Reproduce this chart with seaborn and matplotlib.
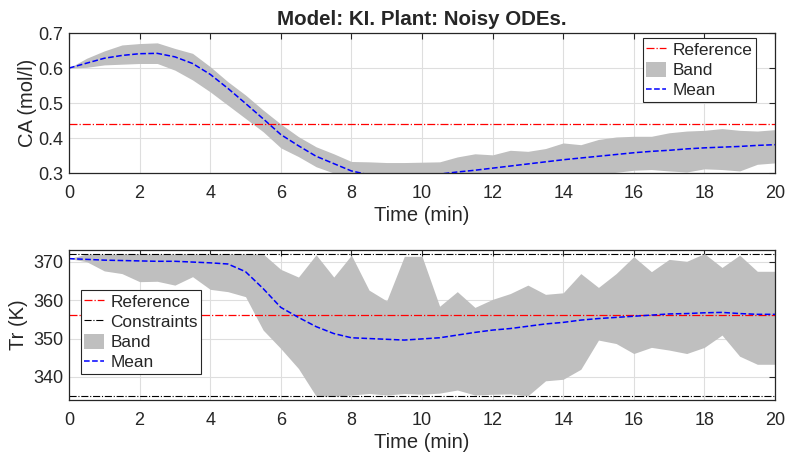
import numpy as np
import pandas as pd
import matplotlib
matplotlib.use("Agg")
import matplotlib.pyplot as plt
from matplotlib.patches import Patch
from matplotlib.lines import Line2D
import seaborn as sns

# time grid of the simulation (min)
time = [0, 0.5, 1, 1.5, 2, 2.5, 3, 3.5, 4, 4.5, 5, 5.5, 6, 6.5, 7, 7.5, 8, 8.5, 9, 9.5,
        10, 10.5, 11, 11.5, 12, 12.5, 13, 13.5, 14, 14.5, 15, 15.5, 16, 16.5, 17, 17.5,
        18, 18.5, 19, 19.5, 20]

# concentration CA (mol/l)
ca_mean = [0.600, 0.614, 0.628, 0.636, 0.641, 0.642, 0.632, 0.613, 0.582, 0.542, 0.499,
           0.455, 0.410, 0.378, 0.348, 0.327, 0.306, 0.295, 0.290, 0.288, 0.290, 0.297,
           0.303, 0.308, 0.314, 0.320, 0.326, 0.332, 0.338, 0.343, 0.348, 0.353, 0.358,
           0.362, 0.365, 0.369, 0.372, 0.374, 0.376, 0.379, 0.381]
ca_upper = [0.600, 0.628, 0.649, 0.666, 0.670, 0.672, 0.656, 0.642, 0.604, 0.561, 0.523,
            0.480, 0.440, 0.404, 0.375, 0.355, 0.333, 0.332, 0.330, 0.330, 0.331, 0.332,
            0.346, 0.355, 0.352, 0.365, 0.362, 0.370, 0.386, 0.381, 0.396, 0.403, 0.405,
            0.405, 0.415, 0.420, 0.422, 0.427, 0.422, 0.420, 0.424]
ca_lower = [0.600, 0.602, 0.609, 0.611, 0.613, 0.613, 0.594, 0.566, 0.532, 0.494, 0.456,
            0.418, 0.372, 0.347, 0.318, 0.300, 0.285, 0.270, 0.262, 0.258, 0.258, 0.262,
            0.266, 0.270, 0.274, 0.278, 0.281, 0.284, 0.287, 0.292, 0.297, 0.302, 0.308,
            0.310, 0.306, 0.303, 0.312, 0.310, 0.306, 0.325, 0.329]
ca_ref = 0.44

# reactor temperature Tr (K)
tr_mean = [370.8, 370.6, 370.4, 370.3, 370.2, 370.1, 370.1, 369.9, 369.7, 369.4, 367.4,
           363.0, 358.1, 355.5, 353.1, 351.3, 350.2, 350.0, 349.8, 349.6, 349.9, 350.2,
           350.9, 351.6, 352.2, 352.6, 353.2, 353.8, 354.2, 354.8, 355.2, 355.5, 355.8,
           356.1, 356.4, 356.5, 356.7, 356.8, 356.5, 356.3, 356.3]
tr_upper = [370.8, 372.0, 372.0, 372.0, 372.0, 372.0, 372.0, 372.0, 372.0, 372.0, 372.0,
            372.0, 368.0, 366.0, 371.8, 366.0, 371.7, 362.6, 359.8, 371.4, 371.4, 358.4,
            362.2, 358.1, 360.2, 361.7, 363.9, 361.5, 361.9, 366.9, 363.3, 366.9, 371.3,
            367.4, 370.6, 370.1, 372.1, 368.5, 371.7, 367.5, 367.5]
tr_lower = [370.8, 370.0, 367.6, 366.9, 364.8, 364.9, 363.9, 366.1, 362.8, 362.2, 360.9,
            352.2, 347.4, 342.2, 335.0, 335.0, 335.3, 335.7, 335.3, 335.7, 335.5, 335.8,
            336.6, 335.3, 335.5, 335.6, 335.1, 339.0, 339.4, 342.0, 349.6, 348.7, 346.1,
            347.7, 347.0, 346.1, 347.7, 350.9, 345.4, 343.3, 343.3]
tr_ref = 356.0
tr_min, tr_max = 335.0, 372.0

df = pd.DataFrame({"time": time, "ca": ca_mean, "tr": tr_mean})

sns.set_style("whitegrid")
plt.rcParams["font.family"] = ["Liberation Sans", "DejaVu Sans"]
band_col = "#bfbfbf"
ink = "#262626"

fig = plt.figure(figsize=(7.87, 4.59), dpi=100)
ax1 = fig.add_axes([0.0877, 0.623, 0.897, 0.305])
ax2 = fig.add_axes([0.0877, 0.1285, 0.897, 0.3265])


def style(ax):
    ax.grid(True, color="#dedede", linewidth=0.8)
    ax.set_axisbelow(True)
    for s in ax.spines.values():
        s.set_color(ink)
        s.set_linewidth(0.9)
    ax.tick_params(direction="in", length=4, width=0.8, colors=ink,
                   labelsize=13, top=True, right=True, labelcolor=ink)
    ax.tick_params(axis="x", pad=8.5)
    ax.tick_params(axis="y", pad=4)
    ax.set_xlim(0, 20)
    ax.set_xticks(range(0, 21, 2))
    ax.set_xlabel("Time (min)", fontsize=14.5, color=ink, labelpad=3)


def legend(ax, handles, labels, **kw):
    leg = ax.legend(handles, labels, fontsize=12.4, frameon=True, fancybox=False,
                    edgecolor=ink, framealpha=1, borderpad=0.2, labelspacing=0.22,
                    handlelength=1.15, handleheight=0.95, handletextpad=0.35,
                    borderaxespad=0, **kw)
    leg.get_frame().set_linewidth(0.8)
    return leg


# top: concentration
ax1.fill_between(time, ca_lower, ca_upper, color=band_col, linewidth=0)
ax1.axhline(ca_ref, color="red", linestyle="-.", linewidth=0.9)
sns.lineplot(data=df, x="time", y="ca", ax=ax1, color="blue", linestyle="--", linewidth=1.1)
ax1.set_ylim(0.3, 0.7)
ax1.set_yticks([0.3, 0.4, 0.5, 0.6, 0.7])
style(ax1)
ax1.set_ylabel("CA (mol/l)", fontsize=14.5, color=ink, labelpad=1)
ax1.set_title("Model: KI. Plant: Noisy ODEs.", fontsize=14.8, fontweight="bold", pad=6)
h1 = [Line2D([], [], color="red", linestyle="-.", linewidth=0.9),
      Patch(facecolor=band_col, edgecolor="none"),
      Line2D([], [], color="blue", linestyle="--", linewidth=1.1)]
legend(ax1, h1, ["Reference", "Band", "Mean"], loc="upper right",
       bbox_to_anchor=(0.9726, 0.962))

# bottom: temperature
ax2.fill_between(time, tr_lower, tr_upper, color=band_col, linewidth=0)
ax2.axhline(tr_ref, color="red", linestyle="-.", linewidth=0.9)
ax2.axhline(tr_min, color="black", linestyle="-.", linewidth=0.8)
ax2.axhline(tr_max, color="black", linestyle="-.", linewidth=0.8)
sns.lineplot(data=df, x="time", y="tr", ax=ax2, color="blue", linestyle="--", linewidth=1.1)
ax2.set_ylim(334, 373)
ax2.set_yticks([340, 350, 360, 370])
style(ax2)
ax2.set_ylabel("Tr (K)", fontsize=14.5, color=ink, labelpad=4)
h2 = [Line2D([], [], color="red", linestyle="-.", linewidth=0.9),
      Line2D([], [], color="black", linestyle="-.", linewidth=0.8),
      Patch(facecolor=band_col, edgecolor="none"),
      Line2D([], [], color="blue", linestyle="--", linewidth=1.1)]
legend(ax2, h2, ["Reference", "Constraints", "Band", "Mean"], loc="upper left",
       bbox_to_anchor=(0.017, 0.733))

fig.savefig("out.png", dpi=100)
